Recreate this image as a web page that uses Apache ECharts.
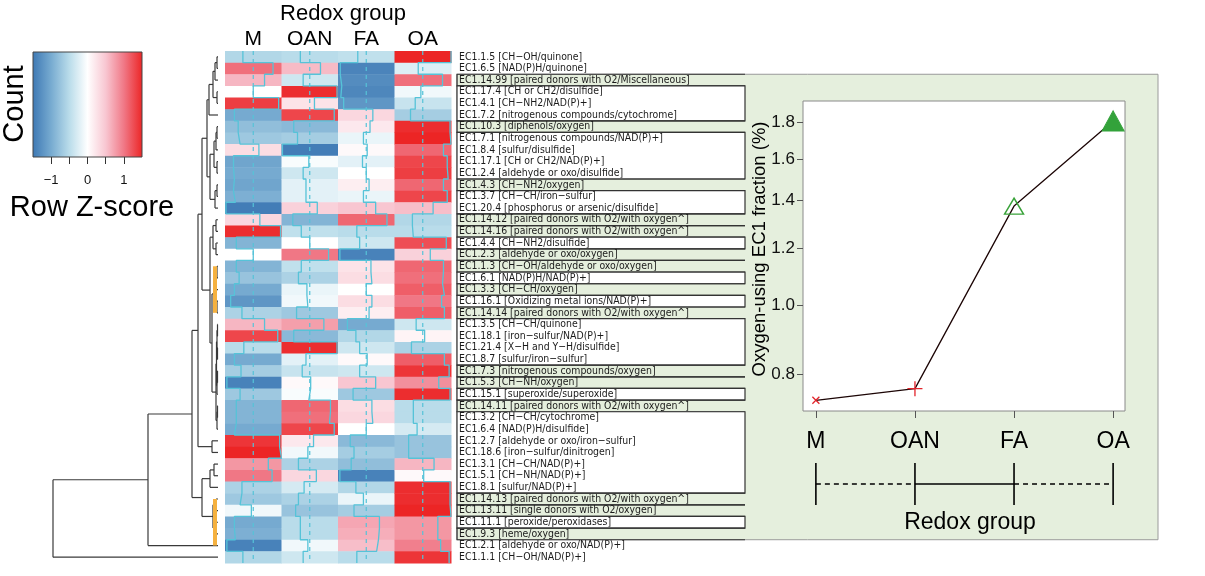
<!DOCTYPE html>
<html><head><meta charset="utf-8">
<script src="https://cdn.jsdelivr.net/npm/echarts@6/dist/echarts.min.js"></script>
<style>html,body{margin:0;padding:0;background:#fff}#c{width:1205px;height:576px}</style>
</head><body><div id="c"></div>
<script>
// ---------------- DATA ----------------
const groups = ['M', 'OAN', 'FA', 'OA'];
const ecLabels = [
  'EC1.1.5 [CH−OH/quinone]', 'EC1.6.5 [NAD(P)H/quinone]', 'EC1.14.99 [paired donors with O2/Miscellaneous]',
  'EC1.17.4 [CH or CH2/disulfide]', 'EC1.4.1 [CH−NH2/NAD(P)+]', 'EC1.7.2 [nitrogenous compounds/cytochrome]',
  'EC1.10.3 [diphenols/oxygen]', 'EC1.7.1 [nitrogenous compounds/NAD(P)+]', 'EC1.8.4 [sulfur/disulfide]',
  'EC1.17.1 [CH or CH2/NAD(P)+]', 'EC1.2.4 [aldehyde or oxo/disulfide]', 'EC1.4.3 [CH−NH2/oxygen]',
  'EC1.3.7 [CH−CH/iron−sulfur]', 'EC1.20.4 [phosphorus or arsenic/disulfide]',
  'EC1.14.12 [paired donors with O2/with oxygen^]', 'EC1.14.16 [paired donors with O2/with oxygen^]',
  'EC1.4.4 [CH−NH2/disulfide]', 'EC1.2.3 [aldehyde or oxo/oxygen]', 'EC1.1.3 [CH−OH/aldehyde or oxo/oxygen]',
  'EC1.6.1 [NAD(P)H/NAD(P)+]', 'EC1.3.3 [CH−CH/oxygen]', 'EC1.16.1 [Oxidizing metal ions/NAD(P)+]',
  'EC1.14.14 [paired donors with O2/with oxygen^]', 'EC1.3.5 [CH−CH/quinone]', 'EC1.18.1 [iron−sulfur/NAD(P)+]',
  'EC1.21.4 [X−H and Y−H/disulfide]', 'EC1.8.7 [sulfur/iron−sulfur]', 'EC1.7.3 [nitrogenous compounds/oxygen]',
  'EC1.5.3 [CH−NH/oxygen]', 'EC1.15.1 [superoxide/superoxide]', 'EC1.14.11 [paired donors with O2/with oxygen^]',
  'EC1.3.2 [CH−CH/cytochrome]', 'EC1.6.4 [NAD(P)H/disulfide]', 'EC1.2.7 [aldehyde or oxo/iron−sulfur]',
  'EC1.18.6 [iron−sulfur/dinitrogen]', 'EC1.3.1 [CH−CH/NAD(P)+]', 'EC1.5.1 [CH−NH/NAD(P)+]',
  'EC1.8.1 [sulfur/NAD(P)+]', 'EC1.14.13 [paired donors with O2/with oxygen^]', 'EC1.13.11 [single donors with O2/oxygen]',
  'EC1.11.1 [peroxide/peroxidases]', 'EC1.9.3 [heme/oxygen]', 'EC1.2.1 [aldehyde or oxo/NAD(P)+]', 'EC1.1.1 [CH−OH/NAD(P)+]'
];
const zM   = [-0.55,1.05,0.6,0.0,1.35,-1.0,-0.8,-0.7,0.3,-1.05,-1.0,-1.05,-0.95,-1.45,0.35,1.45,-0.9,0.0,-0.9,-0.75,-1.0,-1.2,-0.6,0.6,1.3,-0.5,-1.0,-0.65,-1.4,-0.7,-0.9,-0.9,-1.0,1.4,1.5,0.8,1.0,-0.6,-0.7,-0.1,-1.0,-0.95,-1.4,-0.55];
const zOAN = [-0.5,0.57,-0.35,1.45,0.25,1.3,-0.85,-0.65,-1.45,-0.05,-0.35,-0.2,-0.2,0.4,-0.9,-0.45,0.0,1.0,-0.45,-0.6,-0.15,-0.1,-0.7,0.75,-0.85,1.45,-0.2,-0.4,0.05,-0.05,1.1,1.05,1.3,0.2,-0.1,-0.6,0.35,-0.3,-0.6,-0.75,-0.5,-0.5,-0.1,-0.35];
const zFA  = [-0.45,-1.38,-1.3,-1.35,-1.2,0.35,0.2,-0.15,0.05,-0.2,0.0,0.15,-0.15,0.5,1.1,-0.5,-0.35,-1.4,0.25,0.3,0.0,0.3,0.15,-1.0,-0.55,-0.35,0.05,-0.35,0.5,-0.7,0.3,0.35,0.0,-0.85,-0.65,-0.8,-1.4,-0.55,-0.15,-0.65,0.7,0.65,0.55,-0.5];
const zOA  = [1.5,-0.24,1.05,-0.1,-0.4,-0.65,1.45,1.5,1.1,1.3,1.35,1.1,1.3,0.55,-0.55,-0.5,1.25,0.4,1.1,1.05,1.15,1.0,1.15,-0.35,0.1,-0.6,1.15,1.4,0.85,1.45,-0.5,-0.5,-0.3,-0.75,-0.75,0.6,0.05,1.45,1.45,1.5,0.8,0.8,0.95,1.4];
// 1 = oxygen-using EC class (highlighted label)
const oxygenUsing = [0,0,1,0,0,0,1,0,0,0,0,1,0,0,1,1,0,1,1,0,1,0,1,0,0,0,0,1,1,0,1,0,0,0,0,0,0,0,1,1,0,1,0,0];
// orange cluster marks (1-based row ranges)
const orangeRows = [[19, 23], [39, 43]];
// row dendrogram: [left, right, mergeHeight], leaves = row index
const dendA = [[[[0,1,1],2,3],[3,4,1],5],5,9];
const dendB = [[[[6,7,1],8,2],[9,10,1],4],[[11,12,1],13,3],8];
const dendC = [[14,15,2],[16,17,2],5];
const dendD = [[[[18,19,1],20,2],[21,22,1],3],[[[[23,24,0.5],[25,26,0.5],1],[[27,28,0.5],29,1],1.5],[[30,31,0.5],32,1],2],6];
const dendE = [33,34,6];
const dendF = [[[35,36,4],37,8],[[38,39,2],[40,41,2],5],16];
const dendUpper = [[[[[dendA,dendB,11],[dendC,dendD,8],16],dendE,20],dendF,26],42,70];
const dendRoot = [dendUpper, 43, 165];
// color key
const keyTicks = [-1, -0.5, 0, 0.5, 1];
const keyTickLabels = [-1, 0, 1];
// inset: oxygen-using EC1 fraction (%)
const fractionPct = [0.735, 0.763, 1.375, 1.81];
const fractionTicks = [0.8, 1.0, 1.2, 1.4, 1.6, 1.8];
// group comparison links (1 = dashed, 0 = solid)
const linkDashed = [1, 0, 1];

// ---------------- HELPERS ----------------
const FONT = 'Liberation Sans, Arial, sans-serif';
const LABEL_FONT = 'DejaVu Sans Condensed, Liberation Sans, sans-serif';
const colorStops = [[-1.5,'#3d78b4'],[-1,'#76aad0'],[-0.5,'#b9dcea'],[0,'#ffffff'],[0.5,'#f8c6d1'],[1,'#f07785'],[1.5,'#ec2525']];
function hex2rgb(h){return [parseInt(h.substr(1,2),16),parseInt(h.substr(3,2),16),parseInt(h.substr(5,2),16)];}
function zColor(v){
  v = Math.max(-1.5, Math.min(1.5, v));
  for (let i = 0; i < colorStops.length - 1; i++) {
    const [a, ca] = colorStops[i], [b, cb] = colorStops[i+1];
    if (v <= b) {
      const t = (v - a) / (b - a), A = hex2rgb(ca), B = hex2rgb(cb);
      return 'rgb(' + A.map((x, k) => Math.round(x + (B[k] - x) * t)).join(',') + ')';
    }
  }
  return colorStops[colorStops.length-1][1];
}
const zCols = [zM, zOAN, zFA, zOA];
const cellData = [];
zCols.forEach((vals, c) => vals.forEach((v, r) => cellData.push([c, r, v])));
function traceData(vals, c){ const p = []; vals.forEach((v, r) => { const x = c + (v + 1.5) / 3; p.push([x, r], [x, r + 1]); }); return p; }

const dendSegs = [];
(function w(n){
  if (typeof n === 'number') return {y: n + 0.5, h: 0};
  const a = w(n[0]), b = w(n[1]), h = n[2];
  dendSegs.push([a.h, a.y, h, a.y], [b.h, b.y, h, b.y], [h, a.y, h, b.y]);
  return {y: (a.y + b.y) / 2, h: h};
})(dendRoot);

const firstOx = oxygenUsing.indexOf(1), lastOx = oxygenUsing.lastIndexOf(1);
const boxItems = [[firstOx, lastOx + 1, 2]];
for (let r = firstOx; r <= lastOx;) {
  if (oxygenUsing[r]) { boxItems.push([r, r + 1, 1]); r++; }
  else { const s = r; while (r <= lastOx && !oxygenUsing[r]) r++; boxItems.push([s, r, 0]); }
}

const insetData = fractionPct.map((v, i) => [i + 1, v]);
const insetSymbols = [
  {symbol: 'path://M0,0L10,10M10,0L0,10', symbolSize: 7, itemStyle: {color: 'rgba(0,0,0,0)', borderColor: '#e3242b', borderWidth: 1.3}},
  {symbol: 'path://M5,0L5,10M0,5L10,5', symbolSize: 15, itemStyle: {color: 'rgba(0,0,0,0)', borderColor: '#e3242b', borderWidth: 1.3}},
  {symbol: 'triangle', symbolSize: [19, 16], itemStyle: {color: 'rgba(0,0,0,0)', borderColor: '#3aa33a', borderWidth: 1.4}},
  {symbol: 'triangle', symbolSize: [22, 20], itemStyle: {color: '#33a23a', borderColor: '#33a23a', borderWidth: 1}}
];

// ---------------- CHART ----------------
const chart = echarts.init(document.getElementById('c'), null, {renderer: 'canvas'});
const hidden = {show: false};
const noAxis = {axisLine: hidden, axisTick: hidden, axisLabel: hidden, splitLine: hidden};
chart.setOption({
  animation: false,
  backgroundColor: '#fff',
  textStyle: {fontFamily: FONT},
  grid: [
    {left: 225, top: 51, width: 226, height: 512, outerBoundsMode: 'none'},
    {left: 53, top: 51, width: 165, height: 512, outerBoundsMode: 'none'},
    {left: 33, top: 52, width: 109, height: 105, outerBoundsMode: 'none'},
    {left: 803, top: 101, width: 322, height: 310, show: true, backgroundColor: '#fff', borderColor: '#8a8a8a', borderWidth: 1, z: 2, outerBoundsMode: 'none'},
    {left: 803, top: 463, width: 322, height: 42, outerBoundsMode: 'none'}
  ],
  xAxis: [
    {gridIndex: 0, type: 'value', min: 0, max: 4, position: 'top', axisLine: hidden, axisTick: hidden, splitLine: hidden,
     axisLabel: {customValues: [0.5, 1.5, 2.5, 3.5], formatter: v => groups[Math.floor(v)], fontSize: 21, color: '#000', margin: 1, fontFamily: FONT}},
    Object.assign({gridIndex: 1, type: 'value', min: 0, max: 165, inverse: true}, noAxis),
    {gridIndex: 2, type: 'value', min: -1.5, max: 1.5, position: 'bottom', axisLine: hidden, splitLine: hidden,
     axisTick: {show: true, customValues: keyTicks, length: 7, lineStyle: {color: '#333', width: 1}},
     axisLabel: {customValues: keyTickLabels, formatter: v => String(v).replace('-', '−'), fontSize: 13, color: '#111', margin: 17, fontFamily: FONT}},
    {gridIndex: 3, type: 'value', min: 0.87, max: 4.12, z: 3, axisLine: hidden, splitLine: hidden,
     axisTick: {show: true, customValues: [1, 2, 3, 4], length: 7, lineStyle: {color: '#555', width: 1}},
     axisLabel: {customValues: [1, 2, 3, 4], formatter: v => groups[v - 1], fontSize: 23, color: '#000', margin: 19, fontFamily: FONT}},
    Object.assign({gridIndex: 4, type: 'value', min: 0.87, max: 4.12}, noAxis)
  ],
  yAxis: [
    Object.assign({gridIndex: 0, type: 'value', min: 0, max: 44, inverse: true}, noAxis),
    {gridIndex: 0, type: 'category', data: ecLabels, inverse: true, position: 'right', z: 3,
     axisLine: hidden, axisTick: hidden, splitLine: hidden,
     axisLabel: {interval: 0, margin: 8, fontSize: 10.4, color: '#1a1a1a', fontFamily: LABEL_FONT}},
    Object.assign({gridIndex: 1, type: 'value', min: 0, max: 44, inverse: true}, noAxis),
    Object.assign({gridIndex: 2, type: 'value', min: 0, max: 1}, noAxis),
    {gridIndex: 3, type: 'log', logBase: 10, min: 0.71, max: 1.93, z: 3, axisLine: hidden, splitLine: hidden,
     axisTick: {show: true, customValues: fractionTicks, length: 6, lineStyle: {color: '#555', width: 1}},
     axisLabel: {customValues: fractionTicks, formatter: v => Number(v).toFixed(1), fontSize: 17, color: '#111', margin: 8, fontFamily: FONT}},
    Object.assign({gridIndex: 4, type: 'value', min: 0, max: 1}, noAxis)
  ],
  graphic: [
    {type: 'text', x: 343, y: 14, z: 10, style: {text: 'Redox group', fontSize: 22, fontFamily: FONT, fill: '#000', align: 'center', verticalAlign: 'middle'}},
    {type: 'text', x: 15, y: 104, z: 10, rotation: Math.PI / 2, style: {text: 'Count', fontSize: 29, fontFamily: FONT, fill: '#000', align: 'center', verticalAlign: 'middle'}},
    {type: 'text', x: 92, y: 208, z: 10, style: {text: 'Row Z-score', fontSize: 29, fontFamily: FONT, fill: '#000', align: 'center', verticalAlign: 'middle'}},
    {type: 'text', x: 760, y: 249, z: 10, rotation: Math.PI / 2, style: {text: 'Oxygen-using EC1 fraction (%)', fontSize: 18.5, fontFamily: FONT, fill: '#000', align: 'center', verticalAlign: 'middle'}},
    {type: 'text', x: 970, y: 523, z: 10, style: {text: 'Redox group', fontSize: 23, fontFamily: FONT, fill: '#000', align: 'center', verticalAlign: 'middle'}}
  ],
  series: [
    // green panel + label boxes
    {type: 'custom', xAxisIndex: 0, yAxisIndex: 0, z: 1, clip: false, silent: true, data: boxItems,
     renderItem(params, api) {
       const s = api.value(0), e = api.value(1), kind = api.value(2);
       const cs = params.coordSys, x0 = cs.x + cs.width + 6;
       const y0 = api.coord([0, s])[1], y1 = api.coord([0, e])[1];
       if (kind === 2) return {type: 'rect', shape: {x: x0, y: y0, width: 701, height: y1 - y0}, style: {fill: '#e5efdd', stroke: '#9a9a9a', lineWidth: 1}};
       if (kind === 1) return {type: 'polyline', shape: {points: [[x0 + 288, y0], [x0, y0], [x0, y1], [x0 + 288, y1]]}, style: {stroke: '#333', lineWidth: 1.2, fill: null}};
       return {type: 'rect', shape: {x: x0, y: y0, width: 288, height: y1 - y0}, style: {fill: '#fff', stroke: '#333', lineWidth: 1.2}};
     }},
    // heatmap cells
    {type: 'custom', xAxisIndex: 0, yAxisIndex: 0, z: 2, silent: true, data: cellData,
     renderItem(params, api) {
       const c = api.value(0), r = api.value(1), v = api.value(2);
       const p0 = api.coord([c, r]), p1 = api.coord([c + 1, r + 1]);
       return {type: 'rect', shape: {x: Math.min(p0[0], p1[0]), y: Math.min(p0[1], p1[1]), width: Math.abs(p1[0] - p0[0]) + 0.5, height: Math.abs(p1[1] - p0[1]) + 0.5}, style: {fill: zColor(v)}};
     }},
    // center dashed lines
    ...groups.map((g, c) => ({type: 'line', xAxisIndex: 0, yAxisIndex: 0, z: 3, symbol: 'none', silent: true,
      data: [[c + 0.5, 0], [c + 0.5, 44]], lineStyle: {color: '#56c3d8', width: 1.2, type: [4, 4]}})),
    // traces
    ...zCols.map((vals, c) => ({type: 'line', xAxisIndex: 0, yAxisIndex: 0, z: 3, symbol: 'none', silent: true,
      data: traceData(vals, c), lineStyle: {color: '#56c3d8', width: 1.3}})),
    // dendrogram
    {type: 'custom', xAxisIndex: 1, yAxisIndex: 2, z: 2, silent: true, clip: false, data: dendSegs,
     renderItem(params, api) {
       const a = api.coord([api.value(0), api.value(1)]), b = api.coord([api.value(2), api.value(3)]);
       return {type: 'line', shape: {x1: a[0], y1: a[1], x2: b[0], y2: b[1]}, style: {stroke: '#3a3a3a', lineWidth: 1.2}};
     }},
    // orange cluster bars
    {type: 'custom', xAxisIndex: 1, yAxisIndex: 2, z: 3, silent: true, clip: false, data: orangeRows,
     renderItem(params, api) {
       const a = api.coord([5, api.value(0) - 0.5]), b = api.coord([1, api.value(1) - 0.5]);
       return {type: 'rect', shape: {x: Math.min(a[0], b[0]), y: Math.min(a[1], b[1]), width: Math.abs(b[0] - a[0]), height: Math.abs(b[1] - a[1])}, style: {fill: '#f5b13f'}};
     }},
    // color key
    {type: 'custom', xAxisIndex: 2, yAxisIndex: 3, z: 2, silent: true, clip: false, data: [[-1.5, 1.5]],
     renderItem(params, api) {
       const a = api.coord([api.value(0), 1]), b = api.coord([api.value(1), 0]);
       const grad = new echarts.graphic.LinearGradient(0, 0, 1, 0, colorStops.map(([v, c]) => ({offset: (v + 1.5) / 3, color: c})));
       return {type: 'rect', shape: {x: a[0], y: a[1], width: b[0] - a[0], height: b[1] - a[1]}, style: {fill: grad, stroke: '#444', lineWidth: 1}};
     }},
    // inset line
    {type: 'line', xAxisIndex: 3, yAxisIndex: 4, z: 3, silent: true,
     data: insetData.map((d, i) => Object.assign({value: d}, insetSymbols[i])),
     showSymbol: true, lineStyle: {color: '#1c0505', width: 1.3}},
    // group link diagram: ticks
    {type: 'custom', xAxisIndex: 4, yAxisIndex: 5, z: 3, silent: true, clip: false, data: groups.map((g, i) => [i + 1]),
     renderItem(params, api) {
       const a = api.coord([api.value(0), 0]), b = api.coord([api.value(0), 1]);
       return {type: 'line', shape: {x1: a[0], y1: a[1], x2: b[0], y2: b[1]}, style: {stroke: '#000', lineWidth: 1.6}};
     }},
    // group link diagram: links
    {type: 'custom', xAxisIndex: 4, yAxisIndex: 5, z: 3, silent: true, clip: false, data: linkDashed.map((d, i) => [i + 1, i + 2, d]),
     renderItem(params, api) {
       const a = api.coord([api.value(0), 0.5]), b = api.coord([api.value(1), 0.5]);
       return {type: 'line', shape: {x1: a[0], y1: a[1], x2: b[0], y2: b[1]}, style: {stroke: '#000', lineWidth: api.value(2) ? 1.3 : 1.6, lineDash: api.value(2) ? [5, 4] : null}};
     }}
  ]
});
</script>
</body></html>
